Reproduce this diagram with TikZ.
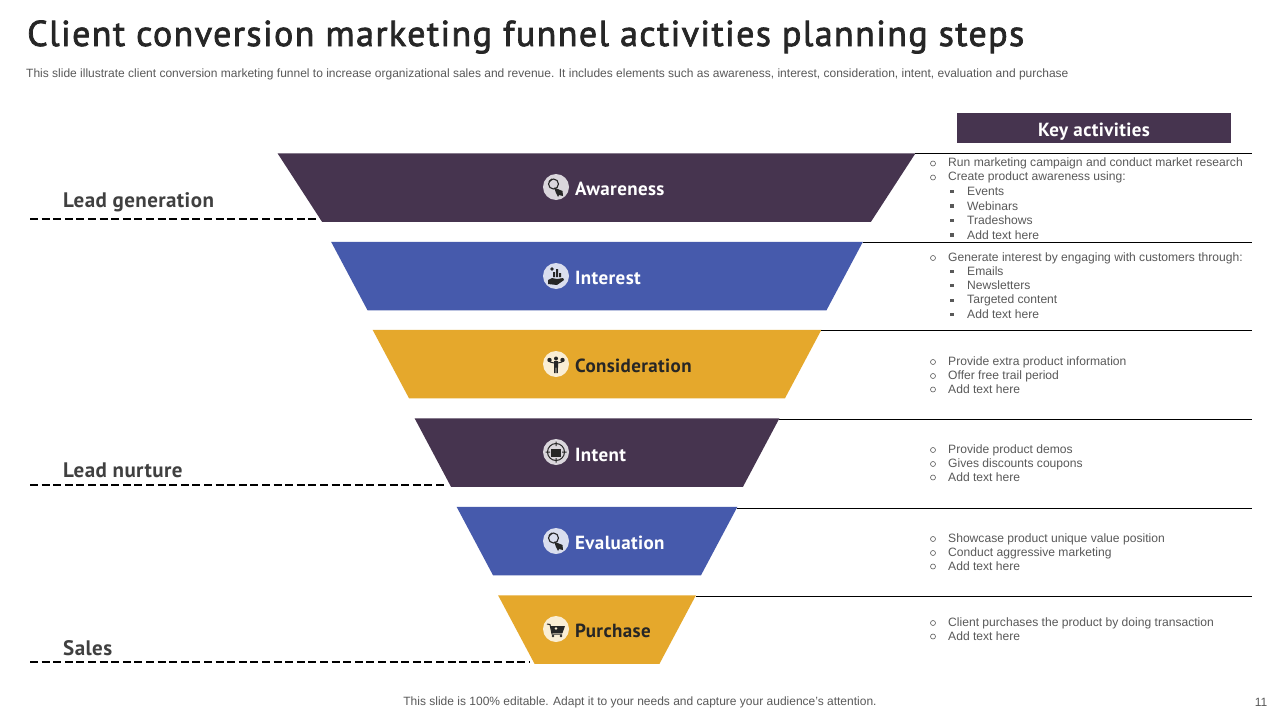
\documentclass[tikz,border=0pt]{standalone}
\usepackage{fontspec}
\setmainfont{Liberation Sans}
\newfontfamily\headfont[LetterSpace=3.9,FakeBold=2]{PT Sans}
\newfontfamily\tagfont[LetterSpace=2]{PT Sans}
\usetikzlibrary{positioning, shapes.geometric}
\definecolor{plum}{HTML}{46344F}
\definecolor{indigo}{HTML}{465AAC}
\definecolor{amber}{HTML}{E5A82C}
\definecolor{inkgrey}{HTML}{595959}
\definecolor{headgrey}{HTML}{404040}
\newcommand{\megaicon}[3]{%
  \fill[#3] (#1,#2) circle (13);
  \draw[black!85, line width=1.1] (#1-2.5,#2-3) circle (5);
  \draw[black!85, line width=1.1] (#1-7,#2-5) -- ++(3,-3);
  \fill[black!85] (#1-2,#2+0.5) -- (#1+6.5,#2+4) -- (#1+7,#2+9) -- (#1+3,#2+8) -- (#1+2,#2+10) -- (#1+0,#2+6) -- cycle;
}
\begin{document}
\begin{tikzpicture}[
    x=1pt, y=-1pt,
    funnelbox/.style={trapezium, shape border rotate=180, trapezium angle=62,
      inner xsep=#1, inner ysep=34.25pt, outer sep=0pt},
    stagelabel/.style={anchor=west, inner sep=0pt, font=\tagfont\bfseries\fontsize{19}{20}\selectfont},
    grouplabel/.style={anchor=west, inner sep=0pt, text=headgrey, font=\tagfont\bfseries\fontsize{21}{24}\selectfont},
    itemtext/.style={anchor=west, inner sep=0pt, text=inkgrey, font=\fontsize{12.1}{14}\selectfont},
    roundbullet/.style={circle, draw=inkgrey, line width=0.6pt, inner sep=0pt, minimum size=5pt},
    squarebullet/.style={rectangle, fill=inkgrey, inner sep=0pt, minimum size=3.4pt},
    rulerline/.style={black, line width=0.9pt},
    dashline/.style={black, line width=1.7pt, dash pattern=on 8pt off 3.6pt}
]
\useasboundingbox (0,0) rectangle (1280,720);
\fill[white] (0,0) rectangle (1280,720);

% heading
\node[anchor=west, inner sep=0pt, text=black!85, font=\headfont\fontsize{36}{40}\selectfont] (title) at (27,37)
  {Client conversion marketing funnel activities planning steps};
\node[anchor=west, inner sep=0pt, text=inkgrey, font=\fontsize{12}{14}\selectfont] (subtitle) at (26,74.5)
  {This slide illustrate client conversion marketing funnel to increase organizational sales and revenue. It includes elements such as awareness, interest, consideration, intent, evaluation and purchase};
\node[fill=plum, text=white, minimum width=274pt, minimum height=30pt, inner sep=0pt, text height=16pt, text depth=0pt, font=\tagfont\bfseries\fontsize{19}{20}\selectfont] (keyhead) at (1094,128) {Key activities};

% funnel
\node[funnelbox=274.5pt, fill=plum, trapezium angle=57] (awareness) at (596.5,187.5) {};
\node[funnelbox=229.5pt, fill=indigo] (interest) at (597,276) {};
\node[funnelbox=188pt, fill=amber] (consideration) at (597,364) {};
\node[funnelbox=146pt, fill=plum] (intent) at (597,452.5) {};
\node[funnelbox=104pt, fill=indigo] (evaluation) at (597,541) {};
\node[funnelbox=62.5pt, fill=amber] (purchase) at (597,629.5) {};

% stage names
\node[stagelabel, text=white] (awarenesslabel) at (575,188.5) {Awareness};
\node[stagelabel, text=white] (interestlabel) at (575,277.5) {Interest};
\node[stagelabel, text=black!85] (considerationlabel) at (575,365.5) {Consideration};
\node[stagelabel, text=white] (intentlabel) at (575,454.5) {Intent};
\node[stagelabel, text=white] (evaluationlabel) at (575,542.5) {Evaluation};
\node[stagelabel, text=black!85] (purchaselabel) at (575,630.5) {Purchase};

% icons
\megaicon{556}{187}{plum!20}
\fill[indigo!20] (556,276) circle (13);
\fill[black!85] (548,280) -- (552,278) -- (557,279) -- (563,278) -- (564,280) -- (557,285) -- (548,284) -- cycle;
\fill[black!85] (553,277) rectangle +(2,-5) (556,277) rectangle +(2,-8) (559,277) rectangle +(2,-4);
\fill[black!85] (552,269) circle (1.8);
\fill[amber!20] (556,364) circle (13);
\fill[black!85] (556,358.5) circle (2) (554,361) rectangle (558,367.5) (554.2,367) rectangle (555.7,373) (556.3,367) rectangle (557.8,373);
\draw[black!85, line width=1] (550,362) -- (554,363) (562,362) -- (558,363);
\fill[black!85] (549.5,360) circle (2.2) (562.5,360) circle (2.2);
\fill[plum!20] (556,452) circle (13);
\draw[black!85, line width=1] (556,452) circle (8.5) (556,441.5) -- (556,446) (556,458) -- (556,462.5) (545.5,452) -- (550,452) (562,452) -- (566.5,452);
\fill[black!85] (551,449) rectangle (561,456.5);
\megaicon{556}{541}{indigo!20}
\fill[amber!20] (556,629) circle (13);
\draw[black!85, line width=1] (547,624) -- (550,624.5) -- (552,634) -- (562,634);
\fill[black!85] (550.5,626) -- (565,626) -- (562.5,633) -- (552,633) -- cycle;
\fill[black!85] (553,636) circle (1.4) (561,636) circle (1.4);
\fill[amber!20] (556,628.5) circle (1.3);

% rules
\coordinate (ruleone) at (1252,153.5);
\coordinate (ruletwo) at (1252,242.5);
\coordinate (rulethree) at (1252,330.5);
\coordinate (rulefour) at (1252,419.5);
\coordinate (rulefive) at (1252,508.5);
\coordinate (rulesix) at (1252,596.5);
\draw[rulerline] (awareness.bottom left corner |- ruleone) -- (ruleone);
\draw[rulerline] (interest.bottom left corner |- ruletwo) -- (ruletwo);
\draw[rulerline] (consideration.bottom left corner |- rulethree) -- (rulethree);
\draw[rulerline] (intent.bottom left corner |- rulefour) -- (rulefour);
\draw[rulerline] (evaluation.bottom left corner |- rulefive) -- (rulefive);
\draw[rulerline] (purchase.bottom left corner |- rulesix) -- (rulesix);

% groups
\coordinate (dashone) at (30,218.8);
\coordinate (dashtwo) at (30,485.2);
\coordinate (dashthree) at (30,662);
\coordinate (dashoneend) at (320,218.8);
\coordinate (dashtwoend) at (447,485.2);
\coordinate (dashthreeend) at (530,662);
\draw[dashline] (dashone) -- (dashoneend);
\draw[dashline] (dashtwo) -- (dashtwoend);
\draw[dashline] (dashthree) -- (dashthreeend);
\node[grouplabel] (leadgen) at (63,202) {Lead generation};
\node[grouplabel] (leadnurture) at (63,470) {Lead nurture};
\node[grouplabel] (sales) at (63,648) {Sales};

% activities
\foreach \yy/\itemname in {163.5/Run marketing campaign and conduct market research, 177.5/Create product awareness using:,
    258/Generate interest by engaging with customers through:,
    362/Provide extra product information, 376/Offer free trail period, 389.5/Add text here,
    450/Provide product demos, 464/Gives discounts coupons, 477.5/Add text here,
    539/Showcase product unique value position, 553/Conduct aggressive marketing, 566.5/Add text here,
    623/Client purchases the product by doing transaction, 636.5/Add text here} {
  \node[roundbullet] (dot\yy) at (933,\yy) {};
  \node[itemtext] (item\yy) at (948,\yy) {\itemname};
}
\foreach \yy/\itemname in {191.5/Events, 206/Webinars, 220.5/Tradeshows, 235/Add text here,
    271.5/Emails, 285.5/Newsletters, 300.5/Targeted content, 314.5/Add text here} {
  \node[squarebullet] (mark\yy) at (952,\yy) {};
  \node[itemtext] (subitem\yy) at (967,\yy) {\itemname};
}

% footer
\node[text=inkgrey, inner sep=0pt, font=\fontsize{12}{14}\selectfont] (footer) at (640,702.5)
  {This slide is 100\% editable. Adapt it to your needs and capture your audience's attention.};
\node[text=inkgrey, inner sep=0pt, font=\fontsize{12}{14}\selectfont] (pagenum) at (1261,702.5) {11};
\end{tikzpicture}
\end{document}
